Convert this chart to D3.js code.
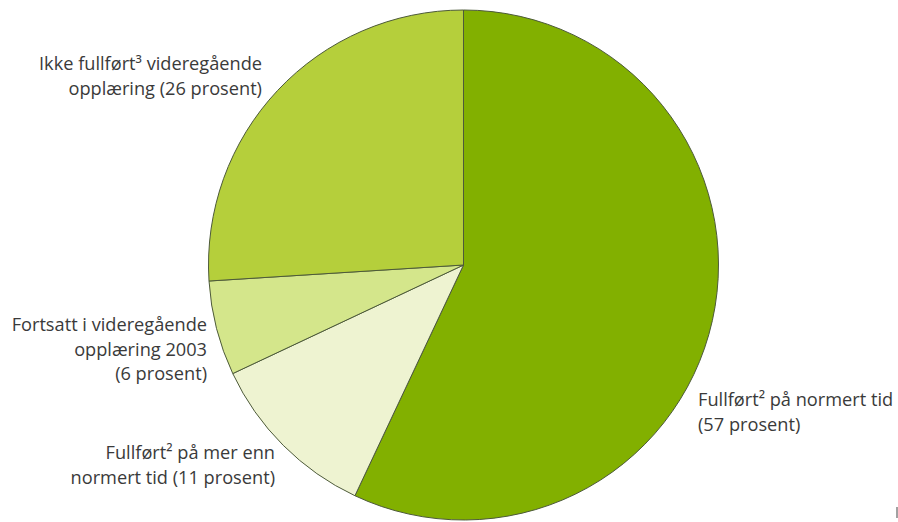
<!DOCTYPE html>
<html>
<head>
  <meta charset="utf-8">
  <title>Pie</title>
  <style>
    body { margin: 0; background: #fff; }
    text { font-family: "Open Sans", sans-serif; font-size: 18.2px; fill: #3a3a3a; }
  </style>
</head>
<body>
  <script src="https://d3js.org/d3.v7.min.js"></script>
  <script>
    var categories = ['Fullført² på normert tid', 'Fullført² på mer enn normert tid', 'Fortsatt i videregående opplæring 2003', 'Ikke fullført³ videregående opplæring'];
    var values = [57, 11, 6, 26];
    var colors = ['#82b000', '#eef3d1', '#d4e68b', '#b5cf3b'];
    var labelLines = [
      ['Fullført² på normert tid', '(57 prosent)'],
      ['Fullført² på mer enn', 'normert tid (11 prosent)'],
      ['Fortsatt i videregående', 'opplæring 2003', '(6 prosent)'],
      ['Ikke fullført³ videregående', 'opplæring (26 prosent)']
    ];

    var W = 898, H = 522;
    var cx = 463.5, cy = 265, r = 255;

    var svg = d3.select('body').append('svg').attr('width', W).attr('height', H);

    var pie = d3.pie().sort(null).value(function(d) { return d; });
    var arc = d3.arc().innerRadius(0).outerRadius(r);

    var g = svg.append('g').attr('transform', 'translate(' + cx + ',' + cy + ')');
    g.selectAll('path').data(pie(values)).enter().append('path')
      .attr('d', arc)
      .attr('fill', function(d, i) { return colors[i]; })
      .attr('stroke', '#4d5a3a')
      .attr('stroke-width', 1);

    // label anchors (right edge / left edge of text blocks)
    var labelPos = [
      { x: 698, y: 406, anchor: 'start' },
      { x: 275, y: 459, anchor: 'end' },
      { x: 207, y: 331, anchor: 'end' },
      { x: 262, y: 70, anchor: 'end' }
    ];
    var lineH = 24.5;

    labelLines.forEach(function(lines, i) {
      var p = labelPos[i];
      var t = svg.append('text').attr('text-anchor', p.anchor);
      lines.forEach(function(s, j) {
        t.append('tspan').attr('x', p.x).attr('y', p.y + j * lineH).text(s);
      });
    });

    // small edge mark at bottom right
    svg.append('line').attr('x1', 897).attr('x2', 897).attr('y1', 507).attr('y2', 518)
      .attr('stroke', '#444').attr('stroke-width', 1);
  </script>
</body>
</html>
